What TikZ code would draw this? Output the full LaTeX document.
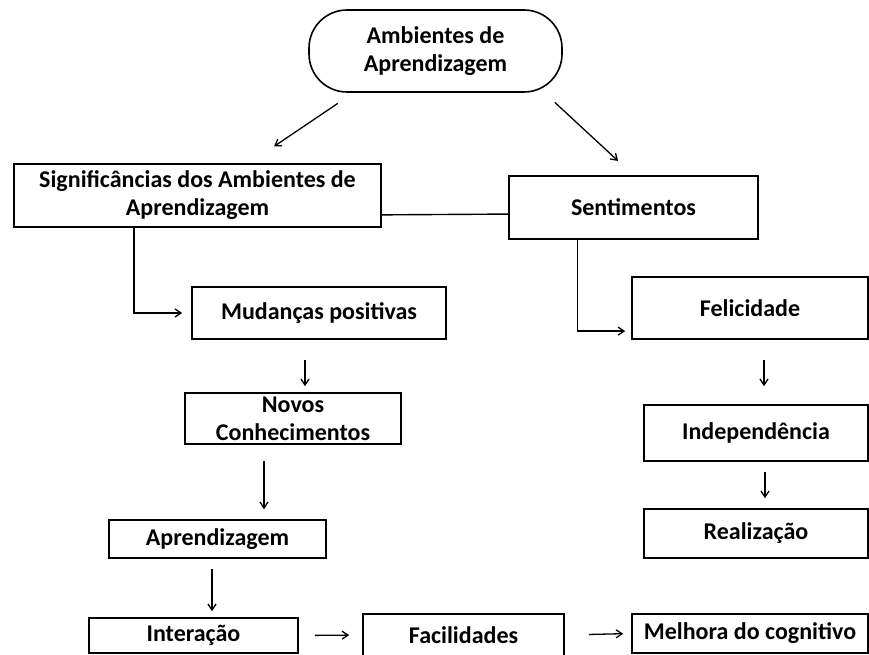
\documentclass[tikz,border=0pt]{standalone}
\usepackage{fontspec}
\setmainfont{Carlito}
\usetikzlibrary{arrows.meta}

\begin{document}
\begin{tikzpicture}[x=1pt,y=-1pt,
      caixa/.style={draw,line width=1.6pt,rectangle,inner sep=0pt,align=center,
                    font=\bfseries\fontsize{24}{28}\selectfont},
      seta/.style={-{Straight Barb[length=6pt,width=8pt]},line width=1.3pt},
      linha/.style={line width=1.4pt}]
\useasboundingbox (0,0) rectangle (869,655);
\clip (0,0) rectangle (869,655);

          \node [caixa,rounded corners=38pt,minimum width=253pt,minimum height=82pt] at (435.5,51) (amb) {Ambientes de\\Aprendizagem};
%
             \node [caixa,minimum width=367pt,minimum height=63pt] at (197.5,195.5) (sig) {Significâncias dos Ambientes de\\Aprendizagem};
              \node [caixa,minimum width=249pt,minimum height=63pt] at (633.5,207.5) (sent) {Sentimentos};
%
               \node [caixa,minimum width=254pt,minimum height=52pt] at (319,313) (mud) {Mudanças positivas};
                \node [caixa,minimum width=216pt,minimum height=51pt] at (293,418.5) (novos) {Novos\\Conhecimentos};
                 \node [caixa,minimum width=217pt,minimum height=38pt] at (217.5,539) (apr) {Aprendizagem};
                  \node [caixa,minimum width=209pt,minimum height=35pt] at (193.5,635.5) (int) {Interação};
                   \node [caixa,minimum width=201pt,minimum height=42pt] at (463.5,635) (fac) {Facilidades};
                    \node [caixa,minimum width=236pt,minimum height=39pt] at (750,633.5) (mel) {Melhora do cognitivo};
%
                \node [caixa,minimum width=236pt,minimum height=62pt] at (750,308) (fel) {Felicidade};
                 \node [caixa,minimum width=224pt,minimum height=56pt] at (756,433) (ind) {Independência};
                  \node [caixa,minimum width=224pt,minimum height=49pt] at (756,533.5) (real) {Realização};
%
%
\path[seta] (amb.-153) edge [shorten <=19pt,shorten >=30pt] (sig.32.5);
\path[seta] (amb.-21.5) edge [shorten <=14pt,shorten >=21pt] (sent.north);
\draw[linha] (sig.-6.4) -- (sent.183.9);
\draw[seta,shorten >=9pt] (sig.207.5) |- (mud.west);
\draw[seta,shorten >=6pt] (sent.210) |- (fel.191.4);
\path[seta] ([xshift=-14pt]mud.south) edge [shorten <=20pt,shorten >=6pt] ([xshift=12pt]novos.north);
\path[seta] ([xshift=-29pt]novos.south) edge [shorten <=16pt,shorten >=10pt] ([xshift=46.5pt]apr.north);
\path[seta] ([xshift=-5.5pt]apr.south) edge [shorten <=10pt,shorten >=6pt] ([xshift=18.5pt]int.north);
\path[seta] (int.east) edge [shorten <=16pt,shorten >=13pt] (fac.west);
\path[seta] (fac.east) edge [shorten <=24pt,shorten >=8pt] (mel.west);
\path[seta] ([xshift=14pt]fel.south) edge [shorten <=20pt,shorten >=18pt] ([xshift=8pt]ind.north);
\path[seta] ([xshift=9pt]ind.south) edge [shorten <=10pt,shorten >=10pt] ([xshift=9pt]real.north);

\end{tikzpicture}
\end{document}
